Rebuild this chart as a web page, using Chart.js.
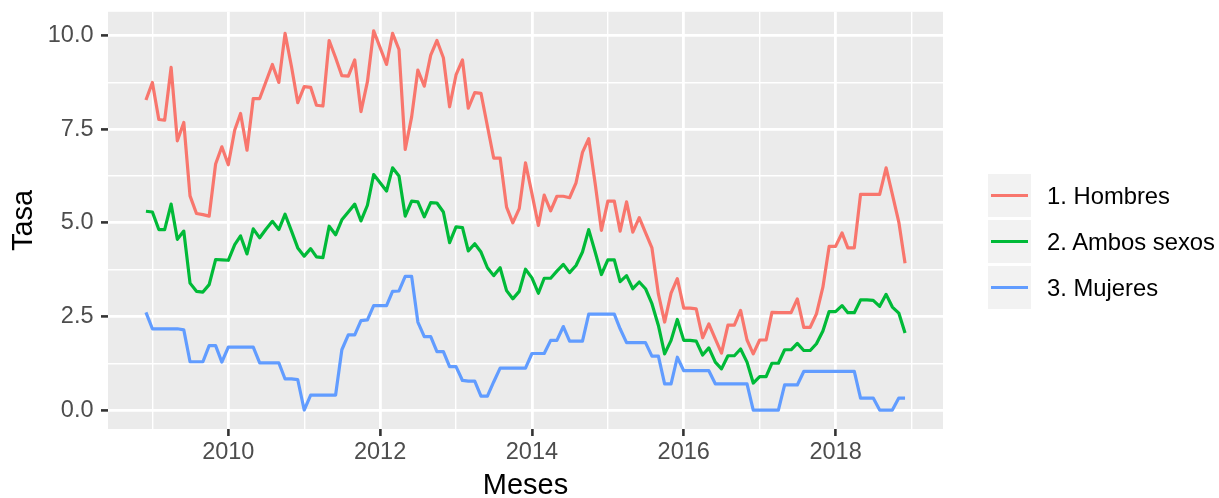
<!DOCTYPE html>
<html lang="es">
<head>
<meta charset="utf-8">
<title>Tasa mensual por sexo</title>
<script src="https://cdn.jsdelivr.net/npm/chart.js@4.4.1/dist/chart.umd.min.js"></script>
<style>
    body { margin: 0; background: #fff; font-family: "Liberation Sans", Arial, sans-serif; }
    #wrap { position: relative; width: 1219px; height: 498px; }
    #leyenda { position: absolute; left: 988px; top: 172.5px; }
    .fila { display: flex; align-items: center; height: 46px; }
    .clave { position: relative; width: 43px; height: 43px; background: #f2f2f2; margin-right: 16px; }
    .clave span { position: absolute; left: 3px; right: 3px; top: 20px; height: 3px; }
    .txt { font-size: 23.8px; color: #000; white-space: nowrap; }
</style>
</head>
<body>
<div id="wrap">
    <canvas id="grafico" width="1219" height="498"></canvas>
    <div id="leyenda"></div>
</div>
<script>
// primer mes de la serie (diciembre 2008), luego mensual
const inicio = { anio: 2008, mes: 12 };

const hombres = [8.28, 8.75, 7.76, 7.74, 9.15, 7.19, 7.68, 5.72, 5.25, 5.22,
    5.18, 6.57, 7.03, 6.55, 7.48, 7.92, 6.94, 8.32, 8.32, 8.77,
    9.23, 8.75, 10.06, 9.17, 8.21, 8.64, 8.62, 8.14, 8.12, 9.87,
    9.41, 8.93, 8.92, 9.35, 7.97, 8.77, 10.13, 9.68, 9.23, 10.06,
    9.63, 6.96, 7.83, 9.08, 8.65, 9.48, 9.87, 9.41, 8.10, 8.95,
    9.35, 8.06, 8.48, 8.46, 7.58, 6.73, 6.73, 5.42, 5.00, 5.38,
    6.60, 5.78, 4.93, 5.74, 5.32, 5.71, 5.71, 5.67, 6.07, 6.88,
    7.25, 6.05, 4.80, 5.58, 5.58, 4.78, 5.56, 4.75, 5.14, 4.74,
    4.33, 3.10, 2.35, 3.12, 3.51, 2.72, 2.72, 2.70, 1.93, 2.30,
    1.90, 1.52, 2.27, 2.27, 2.66, 1.87, 1.50, 1.87, 1.87, 2.61,
    2.60, 2.60, 2.60, 2.97, 2.21, 2.21, 2.57, 3.28, 4.37, 4.37,
    4.73, 4.33, 4.33, 5.76, 5.76, 5.76, 5.76, 6.47, 5.76, 5.02,
    3.92];

const ambos = [5.31, 5.29, 4.82, 4.82, 5.50, 4.56, 4.78, 3.39, 3.17, 3.15,
    3.35, 4.02, 4.01, 4.00, 4.42, 4.65, 4.17, 4.84, 4.60, 4.83,
    5.04, 4.82, 5.23, 4.78, 4.33, 4.11, 4.31, 4.09, 4.07, 4.91,
    4.68, 5.08, 5.29, 5.50, 5.05, 5.47, 6.29, 6.07, 5.85, 6.47,
    6.25, 5.18, 5.58, 5.56, 5.16, 5.54, 5.53, 5.29, 4.47, 4.89,
    4.87, 4.25, 4.44, 4.22, 3.80, 3.59, 3.80, 3.19, 2.97, 3.17,
    3.76, 3.53, 3.12, 3.52, 3.52, 3.71, 3.89, 3.67, 3.86, 4.22,
    4.82, 4.22, 3.62, 4.01, 4.01, 3.43, 3.59, 3.24, 3.42, 3.24,
    2.84, 2.26, 1.50, 1.86, 2.42, 1.86, 1.86, 1.84, 1.47, 1.66,
    1.28, 1.10, 1.45, 1.45, 1.63, 1.28, 0.72, 0.89, 0.89, 1.25,
    1.25, 1.61, 1.61, 1.78, 1.59, 1.59, 1.77, 2.11, 2.63, 2.63,
    2.79, 2.60, 2.60, 2.94, 2.94, 2.93, 2.77, 3.09, 2.75, 2.59,
    2.06];

const mujeres = [2.61, 2.17, 2.17, 2.17, 2.17, 2.17, 2.14, 1.29, 1.29, 1.29,
    1.72, 1.72, 1.28, 1.68, 1.68, 1.68, 1.68, 1.68, 1.26, 1.26,
    1.26, 1.26, 0.83, 0.83, 0.81, 0, 0.40, 0.40, 0.40, 0.40,
    0.40, 1.61, 2.01, 2.01, 2.39, 2.41, 2.79, 2.79, 2.79, 3.17,
    3.18, 3.57, 3.57, 2.35, 1.96, 1.96, 1.56, 1.56, 1.16, 1.16,
    0.79, 0.77, 0.77, 0.37, 0.37, 0.75, 1.12, 1.12, 1.12, 1.12,
    1.12, 1.51, 1.51, 1.51, 1.86, 1.86, 2.23, 1.84, 1.84, 1.84,
    2.56, 2.56, 2.56, 2.56, 2.56, 2.17, 1.80, 1.80, 1.80, 1.80,
    1.44, 1.44, 0.70, 0.70, 1.41, 1.05, 1.05, 1.05, 1.05, 1.05,
    0.70, 0.70, 0.70, 0.70, 0.70, 0.70, 0, 0, 0, 0,
    0, 0.67, 0.67, 0.67, 1.03, 1.03, 1.03, 1.03, 1.03, 1.03,
    1.03, 1.03, 1.03, 0.32, 0.32, 0.32, 0, 0, 0, 0.32,
    0.32];

const nombres = ['1. Hombres', '2. Ambos sexos', '3. Mujeres'];
const colores = ['#F8766D', '#00BA38', '#619CFF'];
const aniosEje = [2010, 2012, 2014, 2016, 2018];
const valoresY = [0, 2.5, 5, 7.5, 10];
const etiquetasY = ['0.0', '2.5', '5.0', '7.5', '10.0'];

const fuente = '"Liberation Sans", Arial, sans-serif';

// fecha del primer dia de cada mes como año decimal
function anioDecimal(anio, mes) {
    const ini = Date.UTC(anio, 0, 1);
    const fin = Date.UTC(anio + 1, 0, 1);
    return anio + (Date.UTC(anio, mes - 1, 1) - ini) / (fin - ini);
}
const meses = hombres.map((_, i) => {
    const m = inicio.mes - 1 + i;
    return anioDecimal(inicio.anio + Math.floor(m / 12), (m % 12) + 1);
});

const valores = [hombres, ambos, mujeres];

// rango con la expansion del 5% de ggplot
const xIni = meses[0], xFin = meses[meses.length - 1];
const xPad = (xFin - xIni) * 0.05;
const todos = valores.flat();
const yMin = Math.min(...todos), yMax = Math.max(...todos);
const yPad = (yMax - yMin) * 0.05;

const ticksX = [];
for (let a = Math.ceil(xIni - xPad); a <= Math.floor(xFin + xPad); a++) ticksX.push(a);
const ticksY = [];
valoresY.forEach((v, i) => {
    ticksY.push(v);
    if (i < valoresY.length - 1) ticksY.push((v + valoresY[i + 1]) / 2);
});

const esMayorX = v => aniosEje.includes(v);
const esMayorY = v => valoresY.includes(v);

const datasets = valores.map((serie, k) => ({
    label: nombres[k],
    data: serie.map((v, i) => ({ x: meses[i], y: v })),
    borderColor: colores[k],
    borderWidth: 3.2,
    borderJoinStyle: 'round',
    pointRadius: 0,
    tension: 0,
    fill: false
}));

// fondo gris del panel
const fondoPanel = {
    id: 'fondoPanel',
    beforeDraw(chart) {
        const { ctx, chartArea: a } = chart;
        ctx.save();
        ctx.fillStyle = '#EBEBEB';
        ctx.fillRect(a.left, a.top, a.right - a.left, a.bottom - a.top);
        ctx.restore();
    }
};

new Chart(document.getElementById('grafico'), {
    type: 'line',
    data: { datasets },
    plugins: [fondoPanel],
    options: {
        responsive: false,
        animation: false,
        layout: { padding: { left: 0, right: 276, top: 11.8, bottom: 0 } },
        plugins: { legend: { display: false }, tooltip: { enabled: false } },
        scales: {
            x: {
                type: 'linear',
                min: xIni - xPad,
                max: xFin + xPad,
                afterBuildTicks: s => { s.ticks = ticksX.map(v => ({ value: v })); },
                afterFit: s => { s.height = 69; s.paddingLeft = 0; s.paddingRight = 0; },
                border: { display: false },
                grid: {
                    color: '#FFFFFF',
                    lineWidth: c => esMayorX(c.tick.value) ? 2.8 : 1.4,
                    tickLength: 7,
                    tickWidth: 2.6,
                    tickColor: c => esMayorX(c.tick.value) ? '#333333' : 'rgba(0,0,0,0)'
                },
                ticks: {
                    autoSkip: false,
                    maxRotation: 0,
                    padding: 2,
                    color: '#4D4D4D',
                    font: { family: fuente, size: 23.5 },
                    callback: v => esMayorX(v) ? String(v) : ''
                },
                title: {
                    display: true,
                    text: 'Meses',
                    color: '#000000',
                    font: { family: fuente, size: 29, lineHeight: 0.8 },
                    padding: { top: 0, bottom: 0.5 }
                }
            },
            y: {
                min: yMin - yPad,
                max: yMax + yPad,
                afterBuildTicks: s => { s.ticks = ticksY.map(v => ({ value: v })); },
                afterFit: s => { s.width = 108; s.paddingTop = 0; s.paddingBottom = 0; },
                border: { display: false },
                grid: {
                    color: '#FFFFFF',
                    lineWidth: c => esMayorY(c.tick.value) ? 2.8 : 1.4,
                    tickLength: 7,
                    tickWidth: 2.6,
                    tickColor: c => esMayorY(c.tick.value) ? '#333333' : 'rgba(0,0,0,0)'
                },
                ticks: {
                    autoSkip: false,
                    padding: 7.5,
                    color: '#4D4D4D',
                    font: { family: fuente, size: 23.5 },
                    callback: v => {
                        const i = valoresY.indexOf(v);
                        return i >= 0 ? etiquetasY[i] : '';
                    }
                },
                title: {
                    display: true,
                    text: 'Tasa',
                    color: '#000000',
                    font: { family: fuente, size: 29 },
                    padding: { top: 6.5, bottom: 0 }
                }
            }
        }
    }
});

// leyenda al estilo ggplot
const leyenda = document.getElementById('leyenda');
nombres.forEach((n, k) => {
    const fila = document.createElement('div');
    fila.className = 'fila';
    fila.innerHTML = `<div class="clave"><span style="background:${colores[k]}"></span></div><div class="txt">${n}</div>`;
    leyenda.appendChild(fila);
});
</script>
</body>
</html>
